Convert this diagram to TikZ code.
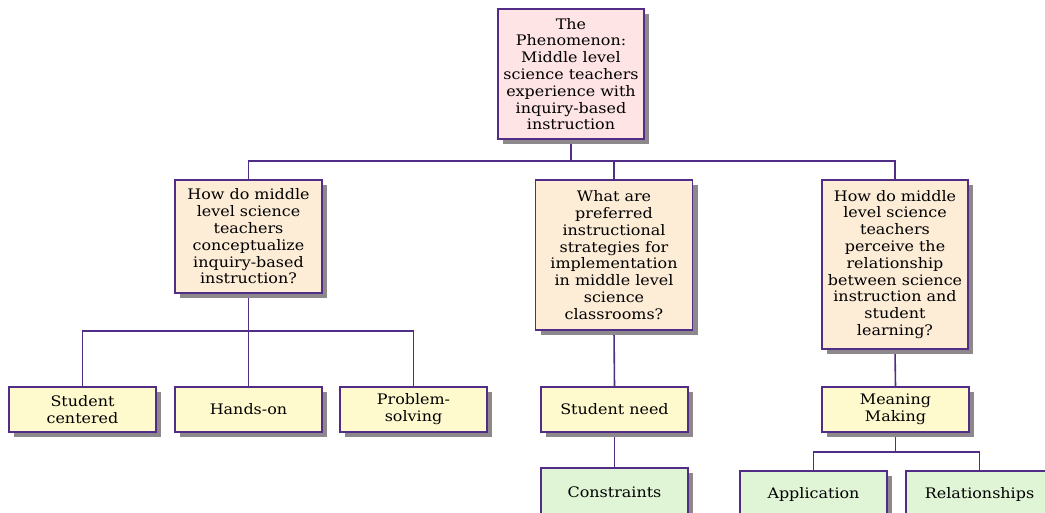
\documentclass[tikz,border=0pt]{standalone}
\usepackage{fontspec}
\setmainfont[FakeStretch=1.1]{DejaVu Serif}
\usetikzlibrary{shadows,backgrounds}
\definecolor{bordc}{RGB}{82,45,135}
\definecolor{shadc}{RGB}{140,136,140}
\definecolor{pinkc}{RGB}{255,228,230}
\definecolor{peachc}{RGB}{253,236,214}
\definecolor{yellc}{RGB}{255,250,206}
\definecolor{greenc}{RGB}{224,245,214}
\tikzset{
  box/.style={draw=bordc, line width=1.6pt, inner sep=0pt, align=center,
    font=\fontsize{14.5}{16.8}\selectfont,
    general shadow={fill=shadc, shadow xshift=5pt, shadow yshift=-5pt}},
  topbox/.style={box, fill=pinkc, minimum width=146pt, minimum height=130pt},
  qbox/.style={box, fill=peachc},
  leafbox/.style={box, fill=yellc, minimum width=147pt, minimum height=45pt},
  greenbox/.style={box, fill=greenc, minimum width=147pt},
  conn/.style={draw=bordc, line width=1.6pt}
}
\begin{document}
\begin{tikzpicture}[x=1pt,y=-1pt]
\useasboundingbox (0,0) rectangle (1045,513);
\clip (0,0) rectangle (1045,513);
\coordinate (bus1) at (0,161);
\coordinate (bus2) at (0,331);
\coordinate (bus3) at (0,452);
% nodes
\node[topbox] (top) at (571,74) {The\\Phenomenon:\\Middle level\\science teachers\\experience with\\inquiry-based\\instruction};
\node[qbox, minimum width=147pt, minimum height=113pt] (q1) at (248.5,236.5) {How do middle\\level science\\teachers\\conceptualize\\inquiry-based\\instruction?};
\node[qbox, minimum width=157pt, minimum height=150pt] (q2) at (614,255) {What are\\preferred\\instructional\\strategies for\\implementation\\in middle level\\science\\classrooms?};
\node[qbox, minimum width=146pt, minimum height=169pt] (q3) at (895,264.5) {How do middle\\level science\\teachers\\perceive the\\relationship\\between science\\instruction and\\student\\learning?};
\node[leafbox] (sc) at (82.5,409.5) {Student\\centered};
\node[leafbox] (ho) at (248.5,409.5) {Hands-on};
\node[leafbox] (ps) at (413.5,409.5) {Problem-\\solving};
\node[leafbox] (sn) at (614.5,409.5) {Student need};
\node[leafbox] (mm) at (895.5,409.5) {Meaning\\Making};
\node[greenbox, minimum height=48pt] (cons) at (614.5,492) {Constraints};
\node[greenbox, minimum height=46pt] (app) at (813.5,494) {Application};
\node[greenbox, minimum height=46pt] (rel) at (979.5,494) {Relationships};
% connectors
\begin{scope}[on background layer]
\fill[white] (0,0) rectangle (1045,513);
\draw[conn] (top.south) -- (top.south |- bus1);
\draw[conn] (q1.north) -- (q1.north |- bus1) -- (q3.north |- bus1) -- (q3.north);
\draw[conn] (q2.north) -- (q2.north |- bus1);
\draw[conn] (q1.south) -- (ho.north);
\draw[conn] (sc.north) -- (sc.north |- bus2) -- (ps.north |- bus2) -- (ps.north);
\draw[conn] (q2.south) -- (sn.north);
\draw[conn] (sn.south) -- (cons.north);
\draw[conn] (q3.south) -- (mm.north);
\draw[conn] (mm.south) -- (mm.south |- bus3);
\draw[conn] (app.north) -- (app.north |- bus3) -- (rel.north |- bus3) -- (rel.north);
\end{scope}
\end{tikzpicture}
\end{document}
